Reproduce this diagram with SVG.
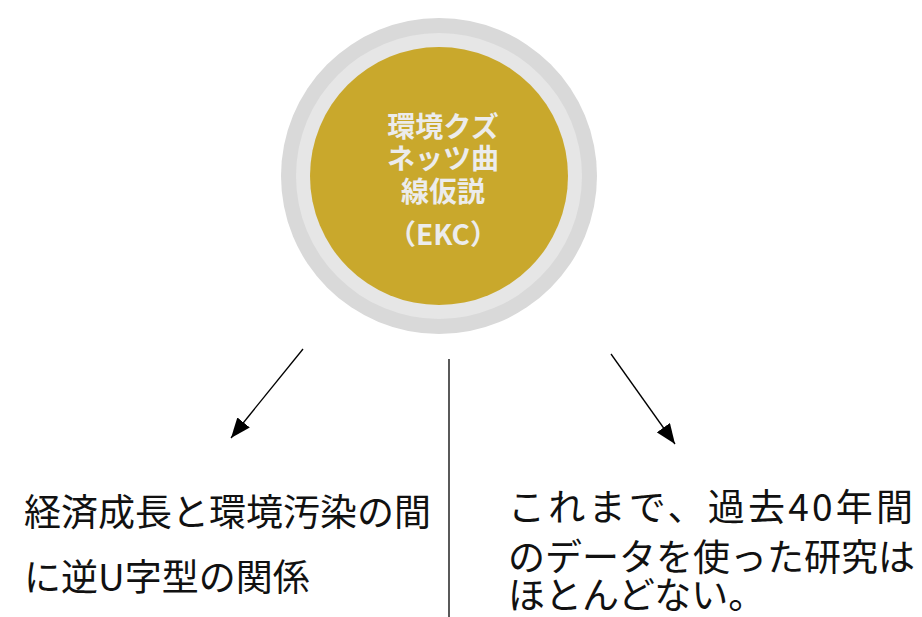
<svg xmlns="http://www.w3.org/2000/svg" width="922" height="617" viewBox="0 0 922 617">
<defs>
<style>
.ctext{font-family:"Noto Sans CJK JP","Noto Sans",sans-serif;font-size:28px;font-weight:700;fill:#ececec;text-anchor:middle}
.btext{font-family:"Noto Sans CJK JP","Noto Sans",sans-serif;font-size:37px;fill:#111}
.conn{stroke:#000;stroke-width:1.3;fill:none}
</style>
<marker id="ah" markerUnits="userSpaceOnUse" markerWidth="22" markerHeight="16" refX="20" refY="8" orient="auto">
<path d="M0,0 L20,8 L0,16 Z" fill="#000"/>
</marker>
</defs>
<rect width="922" height="617" fill="#fff"/>
<g id="ekc">
<circle cx="439" cy="176" r="158" fill="#d9d9d9"/>
<circle cx="439" cy="176" r="143" fill="#e6e6e6"/>
<circle cx="439" cy="176" r="129" fill="#c9a82c"/>
<text class="ctext" x="443" y="137">環境クズ</text>
<text class="ctext" x="443" y="169">ネッツ曲</text>
<text class="ctext" x="443" y="202">線仮説</text>
<text class="ctext" x="443" y="245">（EKC）</text>
</g>
<g id="connectors">
<line class="conn" x1="303" y1="349" x2="231" y2="438" marker-end="url(#ah)"/>
<line class="conn" x1="611" y1="354" x2="675" y2="444" marker-end="url(#ah)"/>
<line class="conn" x1="449" y1="359" x2="449" y2="617" stroke="#333"/>
</g>
<g id="left">
<text class="btext" x="24" y="526">経済成長と環境汚染の間</text>
<text class="btext" x="24" y="591">に逆U字型の関係</text>
</g>
<g id="right">
<text class="btext" x="508" y="521" textLength="405" lengthAdjust="spacing">これまで、過去40年間</text>
<text class="btext" x="508" y="571">のデータを使った研究は</text>
<text class="btext" x="508" y="609">ほとんどない。</text>
</g>
</svg>
